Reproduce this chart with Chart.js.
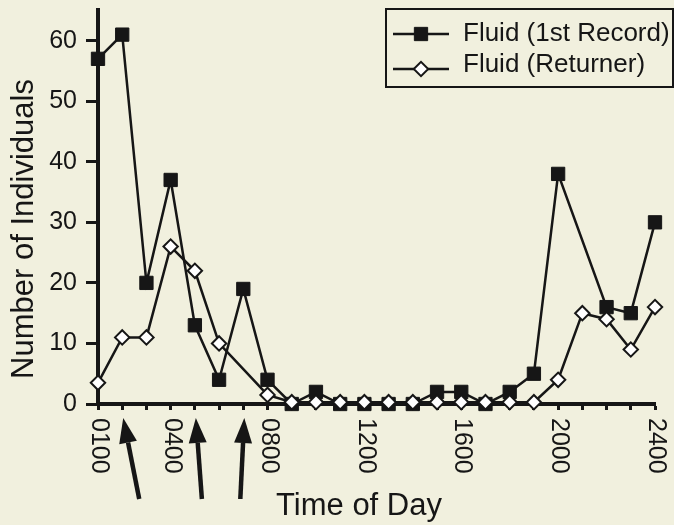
<!DOCTYPE html>
<html>
<head>
<meta charset="utf-8">
<title>Fluid activity by time of day</title>
<script src="https://cdn.jsdelivr.net/npm/chart.js@4.4.0/dist/chart.umd.min.js"></script>
<style>
  html, body { margin: 0; padding: 0; background: #f1f0de; }
  #wrap { width: 674px; height: 525px; }
</style>
</head>
<body>
<div id="wrap"><canvas id="activity-chart" width="674" height="525"></canvas></div>
<script>
/* ── Data ── */
const HOURS = [1, 2, 3, 4, 5, 6, 7, 8, 9, 10, 11, 12, 13, 14, 15, 16, 17, 18, 19, 20, 21, 22, 23, 24];
const FIRST_RECORD = [57, 61, 20, 37, 13, 4, 19, 4, 0, 2, 0, 0, 0, 0, 2, 2, 0, 2, 5, 38, null, 16, 15, 30];
const RETURNER = [3.5, 11, 11, 26, 22, 10, null, 1.5, 0.3, 0.3, 0.3, 0.3, 0.3, 0.3, 0.3, 0.3, 0.3, 0.3, 0.3, 4, 15, 14, 9, 16];
const SERIES_LABELS = ['Fluid (1st Record)', 'Fluid (Returner)'];
const X_TICK_HOURS = [1, 4, 8, 12, 16, 20, 24];
const X_TICK_LABELS = ['0100', '0400', '0800', '1200', '1600', '2000', '2400'];
const Y_TICKS = [0, 10, 20, 30, 40, 50, 60];
const ARROW_HOURS = [2, 5, 7];

/* ── Look ── */
const FONT = "'Liberation Sans', Arial, Helvetica, sans-serif";
const INK = '#161616';
const PAPER = '#f1f0de';
const ARROW_LEAN = [16, 6, -4];   // tail offset of each arrow, px

const decor = {
    id: 'decor',
    beforeDraw(chart) {
        const { ctx, width, height } = chart;
        ctx.save();
        ctx.fillStyle = PAPER;
        ctx.fillRect(0, 0, width, height);
        ctx.restore();
    },
    afterDraw(chart) {
        const { ctx, scales: { x } } = chart;
        ctx.save();
        ctx.fillStyle = INK;
        ctx.strokeStyle = INK;

        // hour labels, turned clockwise
        ctx.font = `25px ${FONT}`;
        ctx.textAlign = 'left';
        ctx.textBaseline = 'middle';
        X_TICK_HOURS.forEach((h, i) => {
            ctx.save();
            ctx.translate(x.getPixelForValue(h) + 1, 418);
            ctx.rotate(Math.PI / 2);
            ctx.fillText(X_TICK_LABELS[i], 0, 0);
            ctx.restore();
        });

        // axis titles
        ctx.font = `31px ${FONT}`;
        ctx.textAlign = 'center';
        ctx.textBaseline = 'alphabetic';
        ctx.fillText('Time of Day', 359, 515);
        ctx.save();
        ctx.translate(33, 229);
        ctx.rotate(-Math.PI / 2);
        ctx.fillText('Number of Individuals', 0, 0);
        ctx.restore();

        // arrows under the axis
        ARROW_HOURS.forEach((h, i) => {
            const tipX = x.getPixelForValue(h) + 1, tipY = 418;
            const tailX = tipX + ARROW_LEAN[i], tailY = 499;
            const ang = Math.atan2(tailY - tipY, tailX - tipX);
            const headLen = 25, half = 9;
            const bx = tipX + Math.cos(ang) * headLen, by = tipY + Math.sin(ang) * headLen;
            ctx.lineWidth = 4.5;
            ctx.beginPath();
            ctx.moveTo(bx, by);
            ctx.lineTo(tailX, tailY);
            ctx.stroke();
            ctx.beginPath();
            ctx.moveTo(tipX, tipY);
            ctx.lineTo(bx - Math.sin(ang) * half, by + Math.cos(ang) * half);
            ctx.lineTo(bx + Math.sin(ang) * half, by - Math.cos(ang) * half);
            ctx.closePath();
            ctx.fill();
        });

        // legend box
        ctx.lineWidth = 2;
        ctx.strokeRect(386, 9, 287, 78);
        const rows = [{ line: 34, text: 34 }, { line: 69, text: 65 }];
        chart.data.datasets.forEach((ds, i) => {
            const r = rows[i];
            ctx.lineWidth = 2.5;
            ctx.strokeStyle = INK;
            ctx.beginPath();
            ctx.moveTo(393, r.line);
            ctx.lineTo(449, r.line);
            ctx.stroke();
            ctx.fillStyle = ds.pointBackgroundColor;
            ctx.strokeStyle = ds.pointBorderColor;
            ctx.lineWidth = ds.pointBorderWidth;
            Chart.helpers.drawPoint(ctx, {
                pointStyle: ds.pointStyle, radius: ds.pointRadius, rotation: 0, borderWidth: ds.pointBorderWidth
            }, 421, r.line);
            ctx.fillStyle = INK;
            ctx.font = `26px ${FONT}`;
            ctx.textAlign = 'left';
            ctx.textBaseline = 'middle';
            ctx.fillText(ds.label, 463, r.text);
        });
        ctx.restore();
    }
};

new Chart(document.getElementById('activity-chart'), {
    type: 'line',
    data: {
        datasets: [
            {
                label: SERIES_LABELS[0],
                data: HOURS.map((h, i) => ({ x: h, y: FIRST_RECORD[i] })),
                borderColor: INK,
                borderWidth: 2.5,
                pointStyle: 'rect',
                pointRadius: 9.4,
                pointBackgroundColor: INK,
                pointBorderColor: INK,
                pointBorderWidth: 1,
                tension: 0,
                spanGaps: true,
                clip: false,
                order: 1
            },
            {
                label: SERIES_LABELS[1],
                data: HOURS.map((h, i) => ({ x: h, y: RETURNER[i] })),
                borderColor: INK,
                borderWidth: 2.5,
                pointStyle: 'rectRot',
                pointRadius: 7.2,
                pointBackgroundColor: '#ffffff',
                pointBorderColor: INK,
                pointBorderWidth: 2,
                tension: 0,
                spanGaps: true,
                clip: false,
                order: 0
            }
        ]
    },
    options: {
        responsive: false,
        animation: false,
        layout: { padding: { top: 7, right: 19, left: 0, bottom: 0 } },
        plugins: { legend: { display: false }, tooltip: { enabled: false } },
        scales: {
            x: {
                type: 'linear',
                min: 1,
                max: 24,
                afterBuildTicks: s => { s.ticks = HOURS.map(h => ({ value: h })); },
                afterFit: s => { s.height = 121; s.paddingLeft = 0; s.paddingRight = 0; },
                ticks: { display: false, autoSkip: false },
                grid: { drawOnChartArea: false, drawTicks: true, tickLength: 6, tickWidth: 3, tickColor: INK },
                border: { display: true, color: INK, width: 4 }
            },
            y: {
                min: 0,
                max: 65,
                afterBuildTicks: s => { s.ticks = Y_TICKS.map(v => ({ value: v })); },
                afterFit: s => { s.width = 98; s.paddingTop = 0; s.paddingBottom = 0; },
                ticks: { color: INK, font: { family: FONT, size: 25 }, padding: 9 },
                grid: { drawOnChartArea: false, drawTicks: true, tickLength: 12, tickWidth: 3, tickColor: INK },
                border: { display: true, color: INK, width: 4 }
            }
        }
    },
    plugins: [decor]
});
</script>
</body>
</html>
